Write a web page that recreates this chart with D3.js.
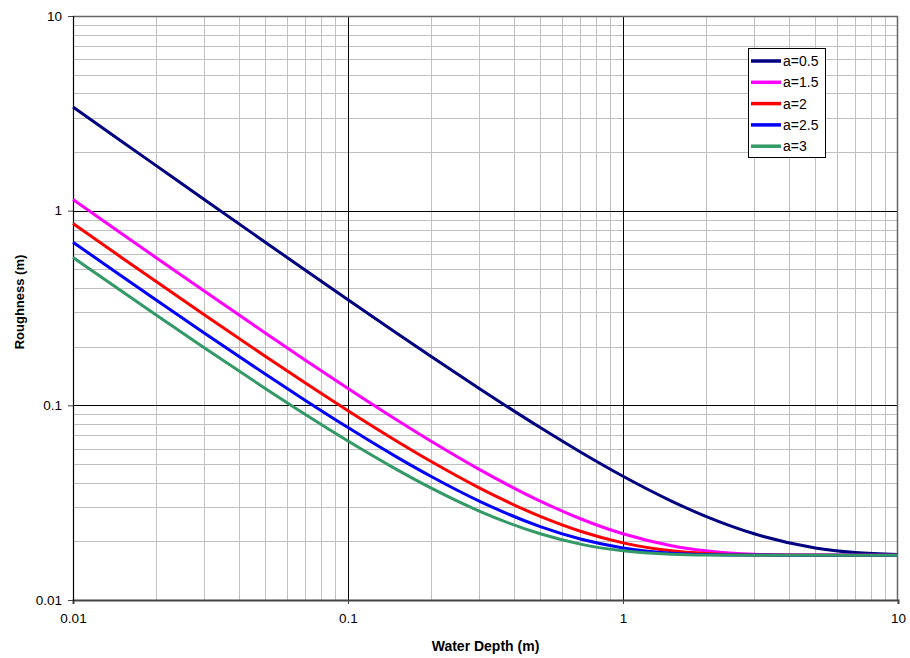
<!DOCTYPE html>
<html>
<head>
<meta charset="utf-8">
<script src="https://cdn.jsdelivr.net/npm/d3@7"></script>
<style>
    body { margin: 0; background: #fff; }
    text { font-family: "Liberation Sans", Arial, sans-serif; }
</style>
</head>
<body>
<div id="chart"></div>
<script>
// Water depth values (m) where the curves were read
var depths = [0.01, 0.015, 0.02, 0.03, 0.05, 0.07, 0.1, 0.15, 0.2, 0.3, 0.5, 0.7, 1, 1.5, 2, 3, 5, 7, 10];

// Roughness (m) for each series
var rough_a05 = [3.409, 2.275, 1.709, 1.142, 0.6885, 0.4943, 0.3486, 0.2353, 0.1786, 0.1221, 0.07685, 0.05757, 0.04321, 0.03222, 0.02689, 0.02188, 0.01852, 0.01753, 0.01712];
var rough_a15 = [1.142, 0.7641, 0.5752, 0.3863, 0.2353, 0.1706, 0.1221, 0.08437, 0.06559, 0.04691, 0.03222, 0.02615, 0.02188, 0.01900, 0.01789, 0.01719, 0.01701, 0.01700, 0.01700];
var rough_a2 = [0.8585, 0.5752, 0.4336, 0.2919, 0.1786, 0.1301, 0.09378, 0.06559, 0.05157, 0.03768, 0.02689, 0.02256, 0.01966, 0.01789, 0.01732, 0.01704, 0.01700, 0.01700, 0.01700];
var rough_a25 = [0.6885, 0.4619, 0.3486, 0.2353, 0.1447, 0.1059, 0.07685, 0.05436, 0.04321, 0.03222, 0.02383, 0.02058, 0.01852, 0.01741, 0.01712, 0.01701, 0.01700, 0.01700, 0.01700];
var rough_a3 = [0.5752, 0.3863, 0.2919, 0.1975, 0.1221, 0.08975, 0.06559, 0.04691, 0.03768, 0.02865, 0.02188, 0.01937, 0.01789, 0.01719, 0.01704, 0.01700, 0.01700, 0.01700, 0.01700];

var series_names = ["a=0.5", "a=1.5", "a=2", "a=2.5", "a=3"];
var series_values = [rough_a05, rough_a15, rough_a2, rough_a25, rough_a3];
var series_colors = ["#000080", "#ff00ff", "#ff0000", "#0000ff", "#339966"];

var x_ticks = [0.01, 0.1, 1, 10];
var y_ticks = [0.01, 0.1, 1, 10];

var margin = { top: 16, right: 12, bottom: 58, left: 73 };
var total_width = 910, total_height = 658;
var width = total_width - margin.left - margin.right;
var height = total_height - margin.top - margin.bottom;

var svg = d3.select("#chart").append("svg")
    .attr("width", total_width)
    .attr("height", total_height);

var g = svg.append("g")
    .attr("transform", "translate(" + margin.left + "," + margin.top + ")");

// Scales
var x = d3.scaleLog().domain([0.01, 10]).range([0, width]);
var y = d3.scaleLog().domain([0.01, 10]).range([height, 0]);

// Minor grid lines
var minor_x = x.ticks().filter(function (d) { return x_ticks.indexOf(+d.toPrecision(6)) < 0; });
var minor_y = y.ticks().filter(function (d) { return y_ticks.indexOf(+d.toPrecision(6)) < 0; });

g.selectAll(".minor_x").data(minor_x).enter().append("line")
    .attr("x1", function (d) { return Math.round(x(d)) + 0.5; })
    .attr("x2", function (d) { return Math.round(x(d)) + 0.5; })
    .attr("y1", 0).attr("y2", height)
    .attr("stroke", "#c0c0c0").attr("stroke-width", 1);

g.selectAll(".minor_y").data(minor_y).enter().append("line")
    .attr("y1", function (d) { return Math.round(y(d)) + 0.5; })
    .attr("y2", function (d) { return Math.round(y(d)) + 0.5; })
    .attr("x1", 0).attr("x2", width)
    .attr("stroke", "#c0c0c0").attr("stroke-width", 1);

// Major grid lines
g.selectAll(".major_x").data(x_ticks.slice(1, -1)).enter().append("line")
    .attr("x1", function (d) { return Math.round(x(d)) + 0.5; })
    .attr("x2", function (d) { return Math.round(x(d)) + 0.5; })
    .attr("y1", 0).attr("y2", height)
    .attr("stroke", "#000").attr("stroke-width", 1);

g.selectAll(".major_y").data(y_ticks.slice(1, -1)).enter().append("line")
    .attr("y1", function (d) { return Math.round(y(d)) + 0.5; })
    .attr("y2", function (d) { return Math.round(y(d)) + 0.5; })
    .attr("x1", 0).attr("x2", width)
    .attr("stroke", "#000").attr("stroke-width", 1);

// Plot frame (top and right)
g.append("line").attr("x1", 0).attr("x2", width).attr("y1", 0.5).attr("y2", 0.5)
    .attr("stroke", "#666").attr("stroke-width", 1.5);
g.append("line").attr("x1", width - 0.5).attr("x2", width - 0.5).attr("y1", 0).attr("y2", height)
    .attr("stroke", "#666").attr("stroke-width", 1.5);

// Axes
var xAxis = d3.axisBottom(x).tickValues(x_ticks)
    .tickFormat(function (d) { return String(+d.toPrecision(6)); })
    .tickSizeOuter(0).tickSize(4).tickPadding(9);
var yAxis = d3.axisLeft(y).tickValues(y_ticks)
    .tickFormat(function (d) { return String(+d.toPrecision(6)); })
    .tickSizeOuter(0).tickSize(5).tickPadding(6);

var gx = g.append("g").attr("transform", "translate(0," + height + ")").call(xAxis);
gx.select(".domain").attr("stroke", "#444").attr("stroke-width", 2);
gx.selectAll(".tick line").attr("stroke", "#444");
gx.selectAll("text").attr("font-size", 13.5).attr("fill", "#000")
    .attr("font-family", "Liberation Sans, Arial, sans-serif");

var gy = g.append("g").call(yAxis);
gy.select(".domain").attr("stroke", "#000").attr("stroke-width", 1.2);
gy.selectAll(".tick line").attr("stroke", "#444");
gy.selectAll("text").attr("font-size", 13.5).attr("fill", "#000")
    .attr("font-family", "Liberation Sans, Arial, sans-serif");

// Axis titles
svg.append("text")
    .attr("transform", "translate(24,302) rotate(-90)")
    .attr("text-anchor", "middle")
    .attr("font-size", 13)
    .attr("font-weight", "bold")
    .text("Roughness (m)");

svg.append("text")
    .attr("x", margin.left + width / 2)
    .attr("y", 651)
    .attr("text-anchor", "middle")
    .attr("font-size", 14)
    .attr("font-weight", "bold")
    .text("Water Depth (m)");

// Lines
var line = d3.line()
    .x(function (d) { return x(d[0]); })
    .y(function (d) { return y(d[1]); })
    .curve(d3.curveMonotoneX);

g.selectAll(".series").data(series_values).enter().append("path")
    .attr("class", "series")
    .attr("fill", "none")
    .attr("stroke", function (d, i) { return series_colors[i]; })
    .attr("stroke-width", 3)
    .attr("d", function (vals) {
        return line(depths.map(function (h, j) { return [h, vals[j]]; }));
    });

// Legend
var legend = svg.append("g").attr("transform", "translate(748,48)");
legend.append("rect")
    .attr("x", 0.5).attr("y", 0.5)
    .attr("width", 77).attr("height", 109)
    .attr("fill", "#fff").attr("stroke", "#000").attr("stroke-width", 1);

var items = legend.selectAll(".item").data(series_names).enter().append("g")
    .attr("transform", function (d, i) { return "translate(0," + (13 + i * 21.3) + ")"; });
items.append("line")
    .attr("x1", 3).attr("x2", 33).attr("y1", 0).attr("y2", 0)
    .attr("stroke", function (d, i) { return series_colors[i]; })
    .attr("stroke-width", 3.5);
items.append("text")
    .attr("x", 35).attr("y", 5)
    .attr("font-size", 14)
    .text(function (d) { return d; });
</script>
</body>
</html>
